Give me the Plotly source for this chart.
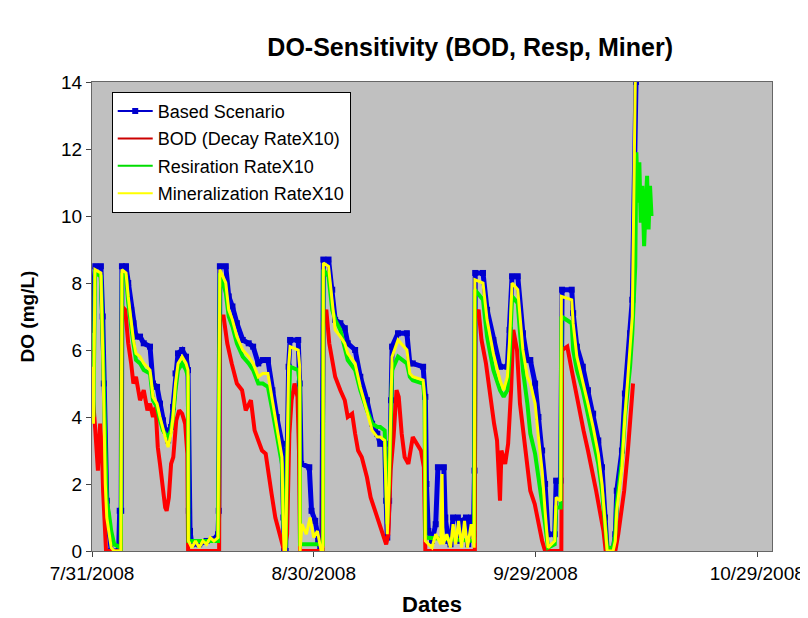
import pandas as pd
import plotly.graph_objects as go

# (days after 7/31/2008, DO mg/L)
based = [(0.0, 6.6), (0.15, 7.7), (0.45, 8.5), (1.2, 8.5), (1.45, 7.0), (1.6, 5.0), (1.75, 3.0), (2.0, 1.5),
         (2.3, 0.6), (2.6, 0.0), (3.6, 0.0), (3.75, 1.2), (3.95, 1.2), (4.05, 8.5), (4.6, 8.5), (4.9, 8.0),
         (5.3, 7.2), (5.6, 6.8), (5.95, 6.4), (6.5, 6.4), (7.0, 6.2), (7.85, 6.1), (8.25, 5.0), (8.8, 4.9),
         (9.2, 4.4), (9.6, 3.9), (9.9, 3.6), (10.3, 3.3), (10.7, 3.7), (10.96, 4.3), (11.3, 5.3), (11.64, 5.9),
         (12.2, 6.0), (12.72, 5.8), (12.99, 5.4), (13.1, 1.2), (13.26, 0.6), (13.5, 0.2), (14.5, 0.2),
         (15.5, 0.3), (16.5, 0.35), (17.05, 0.5), (17.15, 1.2), (17.3, 8.5), (18.1, 8.5), (18.5, 7.6),
         (19.0, 7.3), (19.6, 6.8), (20.4, 6.3), (21.2, 6.2), (21.8, 6.1), (22.5, 5.6), (23.1, 5.7), (23.8, 5.7),
         (24.4, 4.8), (25.0, 4.0), (25.7, 3.2), (25.9, 1.0), (26.0, 0.0), (26.2, 0.0), (26.4, 3.0), (26.6, 5.5),
         (26.8, 6.3), (27.9, 6.3), (28.1, 5.0), (28.3, 2.6), (29.4, 2.5), (29.7, 1.2), (30.2, 0.9), (30.6, 0.3),
         (30.9, 0.0), (31.1, 0.0), (31.3, 8.7), (32.0, 8.7), (32.5, 7.8), (32.9, 6.9), (33.6, 6.8), (34.2, 6.65),
         (34.6, 6.2), (35.6, 6.0), (36.3, 5.2), (37.2, 4.5), (37.9, 3.8), (38.6, 3.5), (39.0, 3.2), (39.6, 3.2),
         (39.8, 1.5), (39.95, 0.4), (40.2, 1.5), (40.45, 4.5), (40.6, 6.1), (41.4, 6.5), (42.6, 6.5), (43.0, 5.6),
         (43.4, 5.6), (44.8, 5.5), (45.1, 4.6), (45.25, 2.0), (45.5, 0.6), (46.0, 0.3), (46.5, 0.8), (46.8, 2.5),
         (47.6, 2.5), (47.8, 1.0), (48.2, 0.3), (48.5, 0.2), (48.85, 1.0), (49.5, 1.0), (49.8, 0.3), (50.1, 0.9),
         (50.6, 1.0), (50.9, 0.2), (51.3, 1.0), (51.6, 0.5), (51.75, 2.4), (51.85, 8.3), (52.9, 8.3), (53.45, 7.2),
         (54.3, 6.3), (55.2, 5.5), (56.2, 5.5), (56.5, 6.6), (56.83, 8.2), (57.6, 8.2), (58.3, 6.5), (58.9, 5.7),
         (59.3, 5.7), (59.95, 5.0), (60.4, 4.0), (60.9, 3.0), (61.3, 2.0), (61.7, 0.5), (62.6, 0.5), (62.8, 2.1),
         (63.4, 2.1), (63.6, 7.8), (64.9, 7.8), (65.1, 7.1), (65.6, 6.1), (66.4, 5.5), (67.1, 4.8), (67.8, 4.1),
         (68.5, 3.3), (69.0, 2.5), (69.4, 1.0), (69.7, 0.0), (70.5, 0.0), (70.8, 0.5), (71.0, 1.8), (71.7, 3.0),
         (72.1, 4.7), (72.8, 6.5), (73.1, 7.5), (73.6, 14.0)]

bod = [(0.0, 6.0), (0.15, 4.5), (0.45, 3.6), (0.8, 2.4), (1.1, 3.8), (1.35, 3.0), (1.5, 1.8), (1.7, 0.6),
       (1.9, 0.0), (3.9, 0.0), (4.05, 7.3), (4.5, 7.2), (4.9, 6.2), (5.3, 5.6), (5.6, 5.0), (5.95, 5.2),
       (6.5, 4.5), (7.0, 4.8), (7.5, 4.2), (7.85, 4.4), (8.25, 4.0), (8.6, 4.3), (8.9, 3.1), (9.2, 2.6),
       (9.6, 1.8), (9.9, 1.3), (10.1, 1.2), (10.4, 1.6), (10.7, 2.6), (11.0, 2.8), (11.4, 3.9), (11.8, 4.2),
       (12.2, 4.1), (12.6, 3.8), (12.9, 2.9), (13.0, 0.0), (17.2, 0.0), (17.3, 7.0), (17.8, 7.0), (18.3, 6.2),
       (18.9, 5.6), (19.6, 5.0), (20.3, 4.8), (20.8, 4.2), (21.5, 4.5), (22.0, 3.6), (22.5, 3.3), (23.0, 3.0),
       (23.5, 2.9), (23.9, 2.2), (24.3, 1.7), (24.8, 1.0), (25.3, 0.6), (25.7, 0.2), (26.0, 0.0), (26.4, 0.5),
       (26.7, 3.5), (27.0, 4.5), (27.4, 5.0), (27.8, 4.6), (28.0, 3.0), (28.15, 0.0), (31.2, 0.0), (31.3, 6.8),
       (31.7, 7.2), (32.1, 6.2), (32.5, 5.6), (32.9, 5.2), (33.6, 4.8), (34.2, 4.5), (34.6, 4.0), (35.2, 4.1),
       (35.6, 3.5), (36.0, 3.0), (36.5, 2.8), (37.2, 2.2), (37.7, 1.6), (38.3, 1.2), (38.9, 0.8), (39.4, 0.5),
       (39.8, 0.2), (40.1, 0.5), (40.4, 2.4), (40.8, 3.4), (41.2, 4.8), (41.5, 4.6), (41.9, 3.5), (42.3, 2.8),
       (42.8, 2.6), (43.4, 3.4), (43.9, 3.2), (44.5, 3.0), (44.9, 2.5), (45.1, 0.0), (51.8, 0.0), (51.85, 7.0),
       (52.3, 7.2), (52.7, 6.3), (53.3, 5.6), (53.8, 4.7), (54.4, 3.8), (54.8, 3.3), (55.2, 1.5), (55.4, 3.0),
       (55.9, 2.6), (56.3, 3.2), (56.7, 4.8), (57.0, 6.6), (57.5, 6.0), (57.9, 4.4), (58.4, 3.5), (58.9, 2.5),
       (59.3, 1.8), (59.9, 1.4), (60.4, 0.8), (60.9, 0.3), (61.3, 0.0), (63.5, 0.0), (63.6, 6.0), (64.3, 6.1),
       (64.9, 5.4), (65.4, 4.8), (65.9, 4.3), (66.5, 3.6), (67.1, 3.0), (67.6, 2.5), (68.2, 1.8), (68.7, 1.2),
       (69.2, 0.6), (69.5, 0.0), (70.8, 0.0), (71.2, 0.5), (71.6, 1.2), (72.0, 1.8), (72.5, 3.0), (72.9, 4.2),
       (73.2, 5.0)]

resp = [(0.0, 5.8), (0.2, 4.0), (0.4, 8.3), (1.2, 8.2), (1.45, 6.2), (1.6, 4.5), (1.8, 2.6), (2.0, 1.5),
        (2.3, 1.1), (2.6, 0.6), (3.0, 0.2), (3.9, 0.1), (4.05, 8.3), (4.6, 8.2), (4.9, 7.4), (5.3, 6.6),
        (5.6, 6.2), (5.95, 5.7), (6.5, 5.6), (7.0, 5.4), (7.85, 5.3), (8.25, 4.5), (8.8, 4.3), (9.2, 3.9),
        (9.6, 3.6), (9.9, 3.5), (10.3, 3.4), (10.7, 3.6), (10.96, 4.0), (11.3, 4.8), (11.64, 5.4), (12.2, 5.6),
        (12.72, 5.4), (12.99, 5.2), (13.05, 0.3), (17.05, 0.3), (17.3, 8.3), (18.1, 7.7), (18.5, 7.0),
        (19.0, 6.7), (19.6, 6.2), (20.4, 5.8), (21.2, 5.6), (21.8, 5.4), (22.5, 5.0), (23.1, 5.0), (23.8, 4.9),
        (24.4, 4.2), (25.0, 3.5), (25.7, 2.6), (25.9, 0.8), (26.2, 0.1), (26.4, 2.8), (26.6, 4.8), (26.8, 5.5),
        (27.9, 5.4), (28.1, 5.0), (28.15, 0.2), (31.25, 0.2), (31.3, 8.4), (32.0, 8.2), (32.5, 7.2), (32.9, 6.9),
        (33.6, 6.6), (34.2, 6.0), (34.6, 5.7), (35.6, 5.4), (36.3, 4.8), (37.2, 4.2), (37.9, 3.8), (38.6, 3.7),
        (39.0, 3.7), (39.6, 3.6), (39.8, 1.8), (39.95, 0.8), (40.2, 2.2), (40.45, 4.2), (40.6, 5.4), (41.4, 5.8),
        (42.6, 5.6), (43.0, 5.2), (43.4, 5.1), (44.8, 5.0), (45.0, 4.5), (45.1, 0.4), (51.7, 0.3), (51.8, 7.8),
        (52.9, 7.5), (53.45, 6.4), (54.3, 5.4), (55.2, 4.8), (55.7, 4.6), (56.2, 4.8), (56.5, 5.8), (56.83, 7.6),
        (57.6, 7.4), (58.3, 5.4), (58.9, 4.4), (59.3, 3.5), (59.95, 2.9), (60.4, 2.2), (60.9, 1.5), (61.3, 0.8),
        (61.7, 0.1), (62.6, 0.2), (62.8, 1.3), (63.4, 1.3), (63.5, 7.0), (64.9, 6.8), (65.1, 6.0), (65.6, 5.4),
        (66.4, 4.8), (67.1, 4.1), (67.8, 3.4), (68.5, 2.6), (69.0, 1.8), (69.4, 0.6), (69.7, 0.1), (70.5, 0.1),
        (70.8, 0.5), (71.0, 1.4), (71.7, 2.7), (72.1, 4.0), (72.8, 5.5), (73.1, 6.5), (73.5, 8.5), (73.65, 11.9),
        (73.85, 10.4), (74.05, 11.6), (74.25, 9.8), (74.45, 10.9), (74.7, 9.1), (74.9, 10.3), (75.1, 11.2),
        (75.3, 9.6), (75.5, 10.9), (75.7, 10.0)]

miner = [(0.0, 5.5), (0.2, 3.8), (0.4, 8.4), (1.2, 8.3), (1.45, 6.0), (1.6, 4.0), (1.8, 2.0), (2.0, 1.0),
         (2.3, 0.5), (2.6, 0.1), (3.0, 0.0), (3.9, 0.0), (4.05, 8.4), (4.6, 8.3), (4.9, 7.6), (5.3, 6.8),
         (5.6, 6.3), (5.95, 5.9), (6.5, 5.8), (7.0, 5.6), (7.85, 5.4), (8.25, 4.6), (8.8, 4.4), (9.2, 4.0),
         (9.6, 3.6), (9.9, 3.4), (10.3, 3.1), (10.7, 3.5), (10.96, 4.0), (11.3, 5.0), (11.64, 5.6), (12.2, 5.8),
         (12.72, 5.6), (12.99, 5.4), (13.05, 0.3), (13.5, 0.1), (14.0, 0.3), (14.5, 0.1), (15.0, 0.3),
         (15.5, 0.2), (16.0, 0.4), (16.5, 0.3), (17.05, 0.4), (17.3, 8.4), (18.1, 8.0), (18.5, 7.2), (19.0, 6.9),
         (19.6, 6.4), (20.4, 6.0), (21.2, 5.8), (21.8, 5.6), (22.5, 5.2), (23.1, 5.3), (23.8, 5.3), (24.4, 4.5),
         (25.0, 3.7), (25.7, 2.8), (25.9, 0.6), (26.0, 0.0), (26.2, 0.0), (26.4, 3.0), (26.6, 5.5), (26.8, 6.1),
         (27.9, 6.0), (28.1, 5.5), (28.15, 0.0), (28.4, 0.8), (29.0, 0.5), (29.5, 1.0), (30.0, 0.4), (30.5, 0.6),
         (31.0, 0.0), (31.25, 0.0), (31.3, 8.6), (32.0, 8.5), (32.5, 7.5), (32.9, 6.6), (33.6, 6.4), (34.2, 6.2),
         (34.6, 5.9), (35.6, 5.6), (36.3, 4.9), (37.2, 4.2), (37.9, 3.6), (38.6, 3.4), (39.0, 3.4), (39.6, 3.3),
         (39.8, 1.5), (39.95, 0.5), (40.2, 2.0), (40.45, 4.5), (40.6, 5.8), (41.4, 6.3), (42.6, 6.0), (43.0, 5.3),
         (43.4, 5.2), (44.8, 5.1), (45.0, 4.6), (45.1, 0.3), (45.5, 0.2), (46.0, 0.1), (46.5, 0.5), (47.2, 0.2),
         (47.36, 2.3), (47.5, 0.2), (48.0, 0.5), (48.5, 0.1), (48.85, 0.8), (49.2, 0.2), (49.6, 0.9), (50.0, 0.1),
         (50.4, 0.9), (50.8, 0.1), (51.3, 0.8), (51.7, 0.1), (51.8, 8.1), (52.9, 8.0), (53.45, 6.9), (54.3, 5.9),
         (55.2, 5.1), (55.7, 4.8), (56.2, 5.2), (56.5, 6.3), (56.83, 8.0), (57.6, 7.8), (58.3, 6.0), (58.9, 5.2),
         (59.3, 5.0), (59.95, 4.4), (60.4, 3.4), (60.9, 2.4), (61.3, 1.2), (61.7, 0.1), (62.6, 0.3), (62.8, 1.6),
         (63.4, 1.5), (63.5, 7.6), (64.9, 7.5), (65.1, 6.8), (65.6, 5.8), (66.4, 5.1), (67.1, 4.4), (67.8, 3.7),
         (68.5, 2.9), (69.0, 2.0), (69.4, 0.7), (69.7, 0.0), (70.5, 0.0), (70.8, 0.3), (71.0, 1.2), (71.7, 2.5),
         (72.1, 4.0), (72.8, 6.0), (73.1, 7.0), (73.5, 14.0)]

series_names = ["Based Scenario", "BOD (Decay RateX10)", "Resiration RateX10", "Mineralization RateX10"]
tick_dates = ["2008-07-31", "2008-08-30", "2008-09-29", "2008-10-29"]
tick_labels = ["7/31/2008", "8/30/2008", "9/29/2008", "10/29/2008"]

start = pd.Timestamp("2008-07-31")
FONT = "Liberation Sans, Arial, sans-serif"


def to_xy(pairs):
    days = [p[0] for p in pairs]
    vals = [p[1] for p in pairs]
    return start + pd.to_timedelta(days, unit="D"), vals


colors = ["#0000DD", "#FF0000", "#00EE00", "#FFFF00"]
widths = [5, 4, 4, 3]

fig = go.Figure()

# actual data (thick lines, like the noisy hourly record)
for pairs, col, w in zip([based, bod, resp, miner], colors, widths):
    x, y = to_xy(pairs)
    if col == colors[0]:
        fig.add_trace(go.Scatter(x=x, y=y, mode="lines+markers", line=dict(color=col, width=w),
                                 marker=dict(symbol="square", size=6, color="#0000CC"),
                                 showlegend=False, hoverinfo="skip"))
    else:
        fig.add_trace(go.Scatter(x=x, y=y, mode="lines", line=dict(color=col, width=w),
                                 showlegend=False, hoverinfo="skip"))

# legend entries with thin lines
legend_colors = ["#0000CC", "#CC0000", "#00DD00", "#FFFF00"]
for i, (name, col) in enumerate(zip(series_names, legend_colors)):
    fig.add_trace(go.Scatter(x=[None], y=[None], name=name, legendgroup=str(i),
                             mode="lines+markers" if i == 0 else "lines",
                             line=dict(color=col, width=2),
                             marker=dict(symbol="square", size=6, color=col)))

axis_common = dict(showline=True, linecolor="#666666", linewidth=1, mirror=True, showgrid=False,
                   zeroline=False, ticks="outside", ticklen=5, tickcolor="#444444",
                   tickfont=dict(family=FONT, size=19, color="#000000"))

# the page body adds an 8px offset, so margins are shifted up-left by 8px
fig.update_layout(
    width=808, height=618,
    margin=dict(l=84, r=44, t=74, b=75),
    paper_bgcolor="white", plot_bgcolor="#C0C0C0",
    title=dict(text="<b>DO-Sensitivity (BOD, Resp, Miner)</b>", x=0.572, xanchor="center",
               y=0.937, yanchor="middle", font=dict(family=FONT, size=25, color="#000000")),
    xaxis=dict(type="date", range=["2008-07-31", "2008-10-31"],
               tickvals=tick_dates, ticktext=tick_labels,
               title=dict(text="<b>Dates</b>", standoff=13, font=dict(family=FONT, size=22, color="#000000")),
               **axis_common),
    yaxis=dict(range=[0, 14], dtick=2,
               title=dict(text="<b>DO (mg/L)</b>", standoff=21, font=dict(family=FONT, size=19, color="#000000")),
               **axis_common),
    legend=dict(x=0.029, y=0.979, xanchor="left", yanchor="top", bgcolor="white",
                bordercolor="#000000", borderwidth=1, tracegroupgap=1, itemwidth=35,
                font=dict(family=FONT, size=18, color="#000000")),
    showlegend=True,
)

fig.write_html("out.html")
